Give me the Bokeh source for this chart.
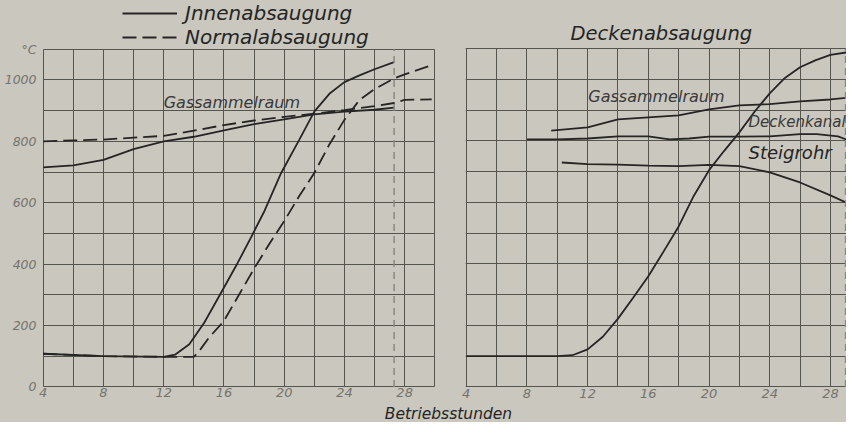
from bokeh.plotting import figure
from bokeh.models import FixedTicker, Label, Legend, LegendItem
from bokeh.layouts import row, column
from bokeh.embed import file_html
from bokeh.resources import INLINE

# ---------------- data ----------------
# left panel: Innenabsaugung (solid) / Normalabsaugung (dashed)
innen_rise_h = [4, 8, 12, 12.75, 13.7, 14.7, 15.8, 16.9, 17.8, 18.7, 19.8, 21, 22, 23, 24, 25, 26, 27.3]
innen_rise_t = [108, 100, 98, 105, 139, 210, 306, 403, 487, 574, 697, 805, 897, 955, 993, 1015, 1035, 1058]
normal_rise_h = [4, 8, 12, 14, 14.3, 15, 16, 17, 18, 19, 20, 21, 22, 23, 24, 25, 26, 27.3, 28, 29.8]
normal_rise_t = [108, 100, 98, 98, 113, 160, 215, 300, 385, 465, 540, 622, 697, 790, 870, 935, 970, 1005, 1018, 1048]
innen_gas_h = [4, 6, 8, 10, 12, 14, 16, 18, 20, 22, 24, 26, 27.3]
innen_gas_t = [715, 722, 740, 775, 800, 815, 836, 856, 872, 888, 897, 903, 910]
normal_gas_h = [4, 6, 8, 10, 12, 14, 16, 18, 20, 22, 24, 26, 27.3, 28, 29.8]
normal_gas_t = [800, 803, 806, 812, 818, 835, 853, 868, 880, 890, 902, 915, 925, 935, 937]
left_end_hour = 27.3

# right panel: Deckenabsaugung
decke_rise_h = [4, 8, 10, 11, 12, 13, 14, 15, 16, 17, 18, 19, 20, 21, 22, 23, 24, 25, 26, 27, 28, 29.3]
decke_rise_t = [100, 100, 100, 103, 122, 163, 222, 290, 360, 440, 522, 622, 705, 768, 828, 895, 955, 1005, 1040, 1062, 1080, 1090]
decke_gas_h = [9.6, 12, 14, 16, 18, 20, 22, 24, 26, 28, 29.4]
decke_gas_t = [834, 844, 870, 877, 883, 903, 916, 920, 929, 935, 942]
deckenkanal_h = [8, 10, 12, 14, 16, 17.4, 18.7, 20, 22, 24, 26, 27.1, 28.5, 29.3]
deckenkanal_t = [805, 805, 808, 815, 815, 805, 808, 814, 814, 815, 822, 822, 815, 800]
steigrohr_h = [10.3, 12, 14, 16, 18, 20, 22, 24, 26, 28, 29.3]
steigrohr_t = [730, 725, 723, 720, 718, 722, 718, 698, 665, 623, 594]
right_end_hour = 29.0

x_major = [4, 8, 12, 16, 20, 24, 28]
x_minor = [6, 10, 14, 18, 22, 26, 30]
y_major = [0, 200, 400, 600, 800, 1000, 1100]
y_minor = [100, 300, 500, 700, 900]
y_unit = {1100: "°C"}
hour_box = (4, 30)
temp_box = (0, 1100)

# ---------------- styling ----------------
PAPER = "#c9c7be"
GRID = "#555550"
INK = "#252525"
TICK = "#75736d"
FONT = "DejaVu Sans"


def base_fig(width, x_range, y_range, border_left, border_right, border_bottom, x_standoff):
    p = figure(width=width, height=404, x_range=x_range, y_range=y_range,
               output_backend="svg", toolbar_location=None,
               min_border_left=border_left, min_border_right=border_right,
               min_border_top=0, min_border_bottom=border_bottom)
    p.background_fill_color = PAPER
    p.border_fill_color = PAPER
    p.outline_line_color = None
    for ax in (p.xaxis[0], p.yaxis[0]):
        ax.axis_line_color = None
        ax.major_tick_line_color = None
        ax.minor_tick_line_color = None
        ax.major_tick_out = 0
        ax.major_tick_in = 0
        ax.minor_tick_out = 0
        ax.minor_tick_in = 0
        ax.major_label_text_font = FONT
        ax.major_label_text_font_style = "italic"
        ax.major_label_text_color = TICK
    p.xaxis[0].ticker = FixedTicker(ticks=x_major, minor_ticks=x_minor)
    p.yaxis[0].ticker = FixedTicker(ticks=y_major, minor_ticks=y_minor)
    p.xaxis[0].major_label_text_font_size = "13px"
    p.xaxis[0].major_label_standoff = x_standoff
    for g in (p.xgrid[0], p.ygrid[0]):
        g.grid_line_color = GRID
        g.grid_line_width = 1
        g.minor_grid_line_color = GRID
        g.minor_grid_line_width = 1
    p.xgrid[0].cross_bounds = temp_box
    return p


# ---------------- left panel ----------------
p1 = base_fig(447, (3.95, 30.05), (-2, 1259), 42, 12, 15, 0)
p1.ygrid[0].cross_bounds = hour_box
p1.yaxis[0].major_label_text_font_size = "12.5px"
p1.yaxis[0].major_label_standoff = 6
p1.yaxis[0].major_label_overrides = y_unit

r_ig = p1.line(innen_gas_h, innen_gas_t, line_color=INK, line_width=1.8)
p1.line(innen_rise_h, innen_rise_t, line_color=INK, line_width=1.8)
r_ng = p1.line(normal_gas_h, normal_gas_t, line_color=INK, line_width=1.8, line_dash="14 6")
p1.line(normal_rise_h, normal_rise_t, line_color=INK, line_width=1.8, line_dash="14 6")
p1.segment(x0=[left_end_hour], y0=[temp_box[0]], x1=[left_end_hour], y1=[temp_box[1]],
           line_color="#8a8882", line_width=1.5, line_dash="7 5")

legend = Legend(items=[LegendItem(label="Jnnenabsaugung", renderers=[r_ig]),
                       LegendItem(label="Normalabsaugung", renderers=[r_ng])],
                location=(80, 338), orientation="vertical",
                glyph_width=55, glyph_height=22, label_height=22, label_standoff=8,
                spacing=0, padding=0, margin=0,
                background_fill_alpha=0, border_line_color=None,
                label_text_font=FONT, label_text_font_style="italic",
                label_text_font_size="20px", label_text_color=INK)
p1.add_layout(legend, "center")

p1.add_layout(Label(x=12.0, y=897, text="Gassammelraum", text_font=FONT,
                    text_font_style="italic", text_font_size="16px", text_color="#3a3a3a"))

# ---------------- right panel ----------------
p2 = base_fig(399, (3.95, 29.06), (-2, 1257), 18, 0, 17, 1)
p2.yaxis[0].visible = False

p2.line(decke_rise_h, decke_rise_t, line_color=INK, line_width=1.8)
p2.line(decke_gas_h, decke_gas_t, line_color=INK, line_width=1.8)
p2.line(deckenkanal_h, deckenkanal_t, line_color=INK, line_width=1.8)
p2.line(steigrohr_h, steigrohr_t, line_color=INK, line_width=1.8)
p2.segment(x0=[right_end_hour], y0=[temp_box[0]], x1=[right_end_hour], y1=[temp_box[1]],
           line_color="#8a8882", line_width=1.5, line_dash="7 5")

p2.add_layout(Label(x=105, y=343, x_units="screen", y_units="screen", text="Deckenabsaugung",
                    text_font=FONT, text_font_style="italic", text_font_size="19.5px",
                    text_color=INK))
p2.add_layout(Label(x=12.04, y=913, text="Gassammelraum", text_font=FONT,
                    text_font_style="italic", text_font_size="16px", text_color="#3a3a3a"))
p2.add_layout(Label(x=22.6, y=834, text="Deckenkanal", text_font=FONT,
                    text_font_style="italic", text_font_size="15px", text_color="#3a3a3a"))
p2.add_layout(Label(x=22.6, y=727, text="Steigrohr", text_font=FONT,
                    text_font_style="italic", text_font_size="18px", text_color=INK))

# ---------------- bottom axis title ----------------
p3 = figure(width=846, height=18, x_range=(0, 1), y_range=(0, 1), output_backend="svg",
            toolbar_location=None, x_axis_type=None, y_axis_type=None,
            min_border_left=0, min_border_right=0, min_border_top=0, min_border_bottom=0)
p3.background_fill_color = PAPER
p3.border_fill_color = PAPER
p3.outline_line_color = None
p3.xgrid.visible = False
p3.ygrid.visible = False
p3.add_layout(Label(x=448, y=0, x_units="screen", y_units="screen", text="Betriebsstunden",
                    text_align="center", text_baseline="bottom", text_font=FONT,
                    text_font_style="italic", text_font_size="15.5px", text_color=INK))

top = row(p1, p2, styles={"background-color": PAPER})
layout = column(top, p3, styles={"background-color": PAPER})
open("out.html", "w").write(file_html(layout, INLINE))
